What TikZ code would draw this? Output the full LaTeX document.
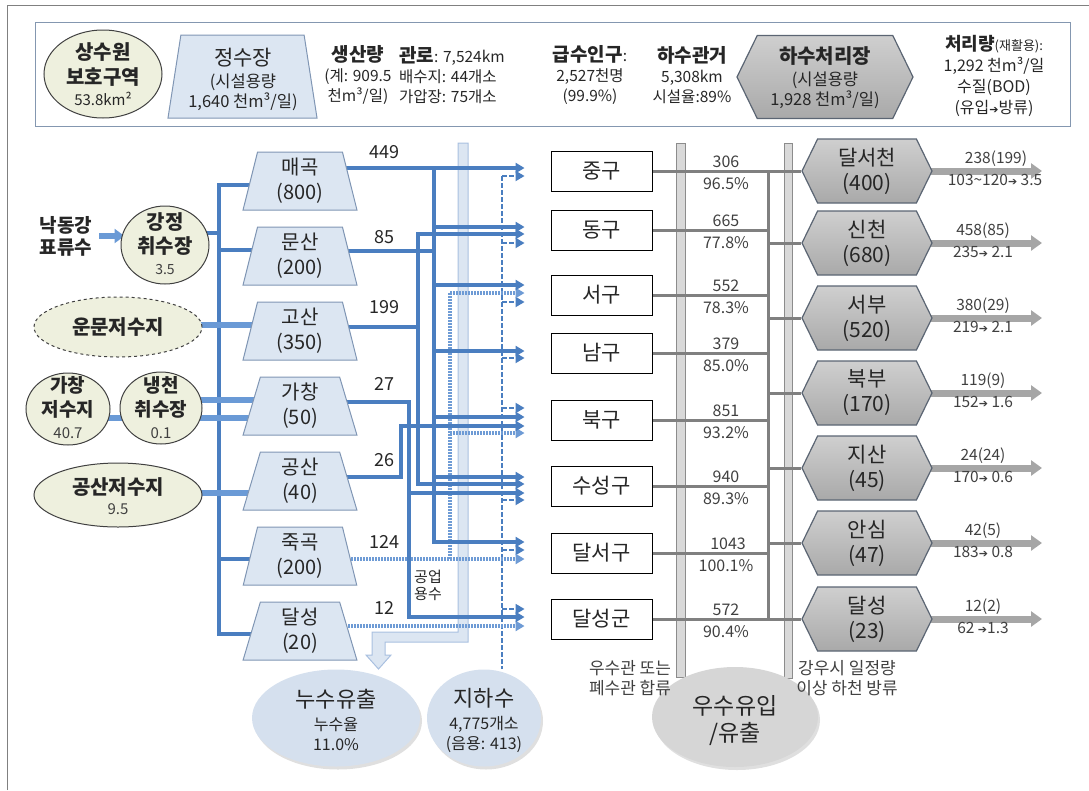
\documentclass[tikz,border=0pt]{standalone}
\usepackage{fontspec}
\setmainfont{Noto Sans CJK KR}
\newfontfamily\symf{DejaVu Sans}
\usetikzlibrary{shapes.geometric,shapes.symbols,arrows.meta,backgrounds,shadows}
\newcommand\fsz[2]{\fontsize{#1}{#2}\selectfont}
\newcommand\rar{{\symf\fontsize{11}{11}\selectfont ➔}}
\definecolor{txt}{HTML}{262626}
\definecolor{gtxt}{HTML}{404040}
\definecolor{blu}{HTML}{4A7EC0}
\definecolor{srca}{HTML}{6A9AD6}
\definecolor{indc}{HTML}{6E9BD5}
\definecolor{pfill}{HTML}{DCE6F2}
\definecolor{pline}{HTML}{8096B4}
\definecolor{sfill}{HTML}{EEF0DE}
\definecolor{sline}{HTML}{404040}
\definecolor{gline}{HTML}{808080}
\definecolor{gband}{HTML}{D9D9D9}
\definecolor{gbandline}{HTML}{8C8C8C}
\definecolor{hexline}{HTML}{5B6573}
\definecolor{hexA}{HTML}{CFCFCF}
\definecolor{hexB}{HTML}{EDEDED}
\definecolor{hexC}{HTML}{A9A9A9}
\definecolor{frame}{HTML}{8497B0}
\definecolor{framegray}{HTML}{808080}
\definecolor{bandfill}{HTML}{DCE6F2}
\definecolor{bandline}{HTML}{A9C0E0}
\definecolor{leakfill}{HTML}{D5E0EE}
\definecolor{rainfill}{HTML}{D6D6D6}
\definecolor{outc}{HTML}{A6A6A6}
\tikzset{
  every node/.style={text=txt, inner sep=0pt},
  srcshape/.style={ellipse, draw=sline, fill=sfill, line width=1pt},
  srctext/.style={align=center, font=\bfseries\fsz{20}{25}},
  plant/.style={trapezium, trapezium left angle=80, trapezium right angle=80,
    trapezium stretches=true, minimum width=114pt, minimum height=58pt,
    draw=pline, fill=pfill, line width=1pt, align=center, font=\fsz{20}{25}},
  plantbig/.style={trapezium, trapezium left angle=88, trapezium right angle=88,
    trapezium stretches=true, minimum width=149pt, minimum height=83pt, inner sep=3pt,
    draw=pline, fill=pfill, line width=1pt},
  dist/.style={rectangle, draw=black, fill=white, line width=0.9pt,
    minimum width=101pt, minimum height=40pt, font=\fsz{21}{24}},
  stp/.style={signal, signal to=west and east, signal pointer angle=128,
    draw=hexline, line width=1.2pt, top color=hexA, middle color=hexB, bottom color=hexC,
    minimum width=130pt, minimum height=64pt, align=center, font=\fsz{21}{25}},
  flow/.style={draw=blu, line width=3.2pt},
  tipa/.style={-{Triangle[length=9pt,width=10pt]}},
  gwline/.style={draw=blu, line width=1.8pt, dash pattern=on 4.5pt off 2.5pt},
  indline/.style={draw=indc, line width=3.2pt, dash pattern=on 1.5pt off 1.5pt},
  srcarrow/.style={draw=srca, line width=6pt, -{Triangle[length=10pt,width=14pt]}},
  srcline/.style={draw=srca, line width=6pt},
  sew/.style={draw=gline, line width=3pt},
  outarrow/.style={draw=outc, line width=7pt, -{Triangle[length=11pt,width=15pt]}},
  vlab/.style={font=\fsz{18}{18}},
  glab/.style={font=\fsz{16}{16}, text=gtxt},
  olab/.style={font=\fsz{15.5}{16}, text=gtxt},
  toptxt/.style={align=center, font=\fsz{15.5}{20}},
  bell/.style={ellipse, drop shadow={shadow xshift=2pt, shadow yshift=-3pt, opacity=0.25}},
}
\begin{document}
\begin{tikzpicture}[x=1pt,y=-1pt]
\useasboundingbox (0,0) rectangle (1089,790);
\draw[draw=framegray, line width=0.8pt] (7,790) -- (7,5) -- (1089,5);

% ---------- top box ----------
\node[draw=frame, line width=1.2pt, minimum width=1035pt, minimum height=104pt, anchor=north west] (topframe) at (35,22) {};
\node[srcshape, minimum width=118pt, minimum height=88pt] (swp) at (103,74) {};
\node[srctext] (swpt) at (103,74) {상수원\\보호구역\\[-4pt]{\mdseries\fsz{15}{15}53.8km²}};
\node[plantbig] (jsj) at (242.5,76.5) {\strut};
\node[toptxt, font=\fsz{16.5}{20}] (jsjt) at (243,79) {{\fsz{21}{21}정수장}\\[2pt](시설용량\\1,640 천m³/일)};
\node[toptxt] (prod) at (358,75) {{\bfseries\fsz{19}{19}생산량}\\(계: 909.5\\천m³/일)};
\node[toptxt, align=left, anchor=west] (pipe) at (399,75) {{\bfseries\fsz{19}{19}관로}: 7,524km\\배수지: 44개소\\가압장: 75개소};
\node[toptxt] (pop) at (590,75) {{\bfseries\fsz{19}{19}급수인구}:\\2,527천명\\(99.9\%)};
\node[toptxt] (sewer) at (692,75) {{\bfseries\fsz{19}{19}하수관거}\\5,308km\\시설율:89\%};
\node[stp, minimum width=176pt, minimum height=83pt, inner sep=3pt] (wwtp) at (825,77) {\strut};
\node[toptxt, font=\fsz{16.5}{20}] (wwtpt) at (825,78) {{\bfseries\fsz{20}{20}하수처리장}\\[2pt](시설용량\\1,928 천m³/일)};
\node[align=center, font=\fsz{16}{21}] (treat) at (994,76) {{\bfseries\fsz{18}{18}처리량}{\fsz{13}{13}(재활용):}\\1,292 천m³/일\\수질(BOD)\\(유입\rar{}방류)};

% ---------- sources ----------
\node[align=center, font=\bfseries\fsz{19}{22}] (nak) at (66,236) {낙동강\\표류수};
\node[srcshape, minimum width=88pt, minimum height=78pt] (gj) at (165,245) {};
\node[srctext, font=\bfseries\fsz{20}{24}] (gjt) at (165,244) {강정\\취수장\\[-3pt]{\mdseries\fsz{14}{14}\color{gtxt}3.5}};
\node[srcshape, dashed, minimum width=168pt, minimum height=60pt] (um) at (118,327) {};
\node[srctext] (umt) at (118,327) {운문저수지};
\node[srcshape, minimum width=84pt, minimum height=72pt] (gcr) at (68,409) {};
\node[srctext, font=\bfseries\fsz{19}{24}] (gcrt) at (68,408) {가창\\저수지\\[-2pt]{\mdseries\fsz{15}{15}\color{gtxt}40.7}};
\node[srcshape, minimum width=82pt, minimum height=72pt] (nc) at (161,408) {};
\node[srctext, font=\bfseries\fsz{19}{24}] (nct) at (161,408) {냉천\\취수장\\[-2pt]{\mdseries\fsz{15}{15}\color{gtxt}0.1}};
\node[srcshape, minimum width=168pt, minimum height=64pt] (gsr) at (118,495) {};
\node[srctext] (gsrt) at (118,496) {공산저수지\\[-5pt]{\mdseries\fsz{15}{15}\color{gtxt}9.5}};

% ---------- purification plants ----------
\node[plant] (mg) at (300,181) {매곡\\(800)};
\node[plant] (ms) at (300,256) {문산\\(200)};
\node[plant] (gs) at (300,331) {고산\\(350)};
\node[plant] (gc) at (300,406) {가창\\(50)};
\node[plant] (gsn) at (300,481) {공산\\(40)};
\node[plant] (jg) at (300,556) {죽곡\\(200)};
\node[plant] (ds) at (300,631) {달성\\(20)};
\node[vlab] (l449) at (384,152) {449};
\node[vlab] (l85) at (384,237) {85};
\node[vlab] (l199) at (384,307) {199};
\node[vlab] (l27) at (384,384) {27};
\node[vlab] (l26) at (384,460) {26};
\node[vlab] (l124) at (384,542) {124};
\node[vlab] (l12) at (384,608) {12};
\node[align=center, font=\fsz{15}{17}] (indw) at (428,585) {공업\\용수};

% ---------- districts ----------
\node[dist] (jung) at (601.5,171) {중구};
\node[dist] (dong) at (601.5,230) {동구};
\node[dist] (seo) at (601.5,295) {서구};
\node[dist] (nam) at (601.5,353) {남구};
\node[dist] (buk) at (601.5,420) {북구};
\node[dist] (ssg) at (601.5,486) {수성구};
\node[dist] (dsg) at (601.5,553) {달서구};
\node[dist] (dsn) at (601.5,619) {달성군};
\foreach \d/\t in {jung/tJ,dong/tD,seo/tS,nam/tN,buk/tB,ssg/tSS,dsg/tDS,dsn/tDG}
  \coordinate (\t) at ([xshift=-26pt]\d.west);

% ---------- sewage plants ----------
\node[stp] (h1) at (867,171) {달서천\\(400)};
\node[stp] (h2) at (867,243) {신천\\(680)};
\node[stp] (h3) at (867,318) {서부\\(520)};
\node[stp] (h4) at (867,393) {북부\\(170)};
\node[stp] (h5) at (867,468) {지산\\(45)};
\node[stp] (h6) at (867,543) {안심\\(47)};
\node[stp] (h7) at (867,619) {달성\\(23)};

% sewer numbers
\node[glab] (q1) at (726,161.5) {306};   \node[glab] (p1) at (726,183.5) {96.5\%};
\node[glab] (q2) at (726,220.5) {665};   \node[glab] (p2) at (726,242.5) {77.8\%};
\node[glab] (q3) at (726,285.5) {552};   \node[glab] (p3) at (726,307.5) {78.3\%};
\node[glab] (q4) at (726,343.5) {379};   \node[glab] (p4) at (726,365.5) {85.0\%};
\node[glab] (q5) at (726,410.5) {851};   \node[glab] (p5) at (726,432.5) {93.2\%};
\node[glab] (q6) at (726,476.5) {940};   \node[glab] (p6) at (726,498.5) {89.3\%};
\node[glab] (q7) at (728,543.5) {1043};  \node[glab] (p7) at (726,565.5) {100.1\%};
\node[glab] (q8) at (726,609.5) {572};   \node[glab] (p8) at (726,631.5) {90.4\%};

% outputs
\node[olab] (o1a) at (996,159) {238(199)};  \node[olab] (o1b) at (995,180) {103\textasciitilde120\rar{} 3.5};
\node[olab] (o2a) at (983,231) {458(85)};   \node[olab] (o2b) at (983,252) {235\rar{} 2.1};
\node[olab] (o3a) at (983,306) {380(29)};   \node[olab] (o3b) at (983,327) {219\rar{} 2.1};
\node[olab] (o4a) at (983,381) {119(9)};    \node[olab] (o4b) at (983,402) {152\rar{} 1.6};
\node[olab] (o5a) at (983,456) {24(24)};    \node[olab] (o5b) at (983,477) {170\rar{} 0.6};
\node[olab] (o6a) at (983,531) {42(5)};     \node[olab] (o6b) at (983,552) {183\rar{} 0.8};
\node[olab] (o7a) at (983,607) {12(2)};     \node[olab] (o7b) at (983,628) {62 \rar{}1.3};
\coordinate (oxx) at (1042,0);

% ---------- bottom ----------
\node[bell, fill=leakfill, minimum width=168pt, minimum height=97pt] (leak) at (336,718) {};
\node[align=center, font=\fsz{16}{20}] (leakt) at (336,720) {{\fsz{22}{22}누수유출}\\[3pt]누수율\\11.0\%};
\node[bell, fill=leakfill, minimum width=114pt, minimum height=97pt] (gw) at (484,718) {};
\node[align=center, font=\fsz{16}{20}] (gwt) at (484,720) {{\fsz{22}{22}지하수}\\[3pt]4,775개소\\(음용: 413)};
\node[bell, fill=rainfill, minimum width=166pt, minimum height=100pt] (rain) at (735,717) {};
\node[align=center, font=\fsz{23}{27}] (raint) at (735,721) {우수유입\\/유출};
\node[align=center, font=\fsz{17}{20}, text=gtxt] (comb) at (630,678) {우수관 또는\\폐수관 합류};
\node[align=center, font=\fsz{17}{20}, text=gtxt] (ovfl) at (847,678) {강우시 일정량\\이상 하천 방류};

% helper x positions
\coordinate (xbus) at (219,0);
\coordinate (pinx) at ([xshift=-3pt]mg.south west);
\coordinate (xV1) at (434,0);
\coordinate (xV2) at (418,0);
\coordinate (xV3) at (409,0);
\coordinate (xV4) at (401,0);
\coordinate (xGW) at (502,0);
\coordinate (xIN) at (450,0);
\coordinate (xS) at (768,0);

\begin{pgfonlayer}{background}
% bands
\draw[fill=bandfill, draw=bandline, line width=1pt]
  (458,143) -- (468,143) -- (468,642) -- (385,642) -- (385,655) -- (391,655) -- (378.5,669)
  -- (366,655) -- (372,655) -- (372,632) -- (458,632) -- cycle;
\draw[fill=gband, draw=gbandline, line width=0.8pt] (676,143) rectangle (685,677);
\draw[fill=gband, draw=gbandline, line width=0.8pt] (784,143) rectangle (792,678);

% sources
\draw[srcarrow] ([xshift=7pt]nak.east) -- ([xshift=4pt]gj.west |- nak.east);
\draw[flow] (gj.center |- 0,233) -- (xbus |- 0,233);
\draw[flow,tipa] (xbus |- 0,233) -- (xbus |- 0,185) -- (pinx |- 0,185);
\draw[flow,tipa] (xbus |- 0,233) -- (xbus |- 0,634) -- (pinx |- 0,634);
\draw[flow,tipa] (xbus |- 0,250) -- (pinx |- 0,250);
\draw[flow,tipa] (xbus |- 0,559) -- (pinx |- 0,559);
\draw[srcarrow] (um.center |- 0,325) -- (pinx |- 0,325);
\draw[srcline] (gcr.center |- 0,418) -- (nc.center |- 0,418);
\draw[srcarrow] (nc.center |- 0,400) -- (pinx |- 0,400);
\draw[srcarrow] (nc.center |- 0,418) -- (pinx |- 0,418);
\draw[srcarrow] (gsr.center |- 0,493) -- (pinx |- 0,493);

% groundwater (dashed)
\draw[gwline] (xGW |- 0,176) -- (xGW |- gw.north);
\foreach \t/\y in {tJ/176,tD/243,tS/302,tN/358,tB/408,tSS/500,tDS/550,tDG/609}
  \draw[gwline,tipa] (xGW |- 0,\y) -- (\t |- 0,\y);

% industrial water (dotted)
\draw[indline,tipa] (jg.center |- 0,559) -- (tDS |- 0,559);
\draw[indline] (xIN |- 0,293) -- (xIN |- 0,559);
\draw[indline,tipa] (xIN |- 0,293) -- (tS |- 0,293);
\draw[indline,tipa] (xIN |- 0,433) -- (tB |- 0,433);
\draw[indline,tipa] (ds.center |- 0,626) -- (tDG |- 0,626);

% treated water (solid)
\draw[flow,tipa] (mg.center |- 0,168) -- (tJ |- 0,168);
\draw[flow,tipa] (xV1 |- 0,168) -- (xV1 |- 0,542) -- (tDS |- 0,542);
\draw[flow] (ms.center |- 0,251) -- (xV1 |- 0,251);
\foreach \t/\y in {tD/227,tS/285,tN/351,tB/417,tSS/477}
  \draw[flow,tipa] (xV1 |- 0,\y) -- (\t |- 0,\y);
\draw[flow] (gs.center |- 0,327) -- (xV2 |- 0,327);
\draw[flow,tipa] (xV2 |- 0,330) -- (xV2 |- 0,234) -- (tD |- 0,234);
\draw[flow,tipa] (xV2 |- 0,330) -- (xV2 |- 0,484) -- (tSS |- 0,484);
\draw[flow,tipa] (gc.center |- 0,402) -- (xV3 |- 0,402) -- (xV3 |- 0,617) -- (tDG |- 0,617);
\draw[flow,tipa] (xV3 |- 0,493) -- (tSS |- 0,493);
\draw[flow,tipa] (gsn.center |- 0,477) -- (xV4 |- 0,477) -- (xV4 |- 0,426) -- (tB |- 0,426);

% sewer (gray)
\draw[sew] (xS |- jung.east) -- (xS |- dsn.east);
\draw[sew] (jung.east) -- (jung.east -| h1.west);
\draw[sew] (dsn.east) -- (dsn.east -| h7.west);
\foreach \d in {dong,seo,nam,buk,ssg,dsg}
  \draw[sew] (\d.east) -- (xS |- \d.east);
\foreach \h in {h2,h3,h4,h5,h6}
  \draw[sew] (xS |- \h.west) -- (\h.west);
\foreach \h in {h1,h2,h3,h4,h5,h6,h7}
  \draw[outarrow] ([xshift=-8pt]\h.east) -- (oxx |- \h.east);
\end{pgfonlayer}
\end{tikzpicture}
\end{document}
